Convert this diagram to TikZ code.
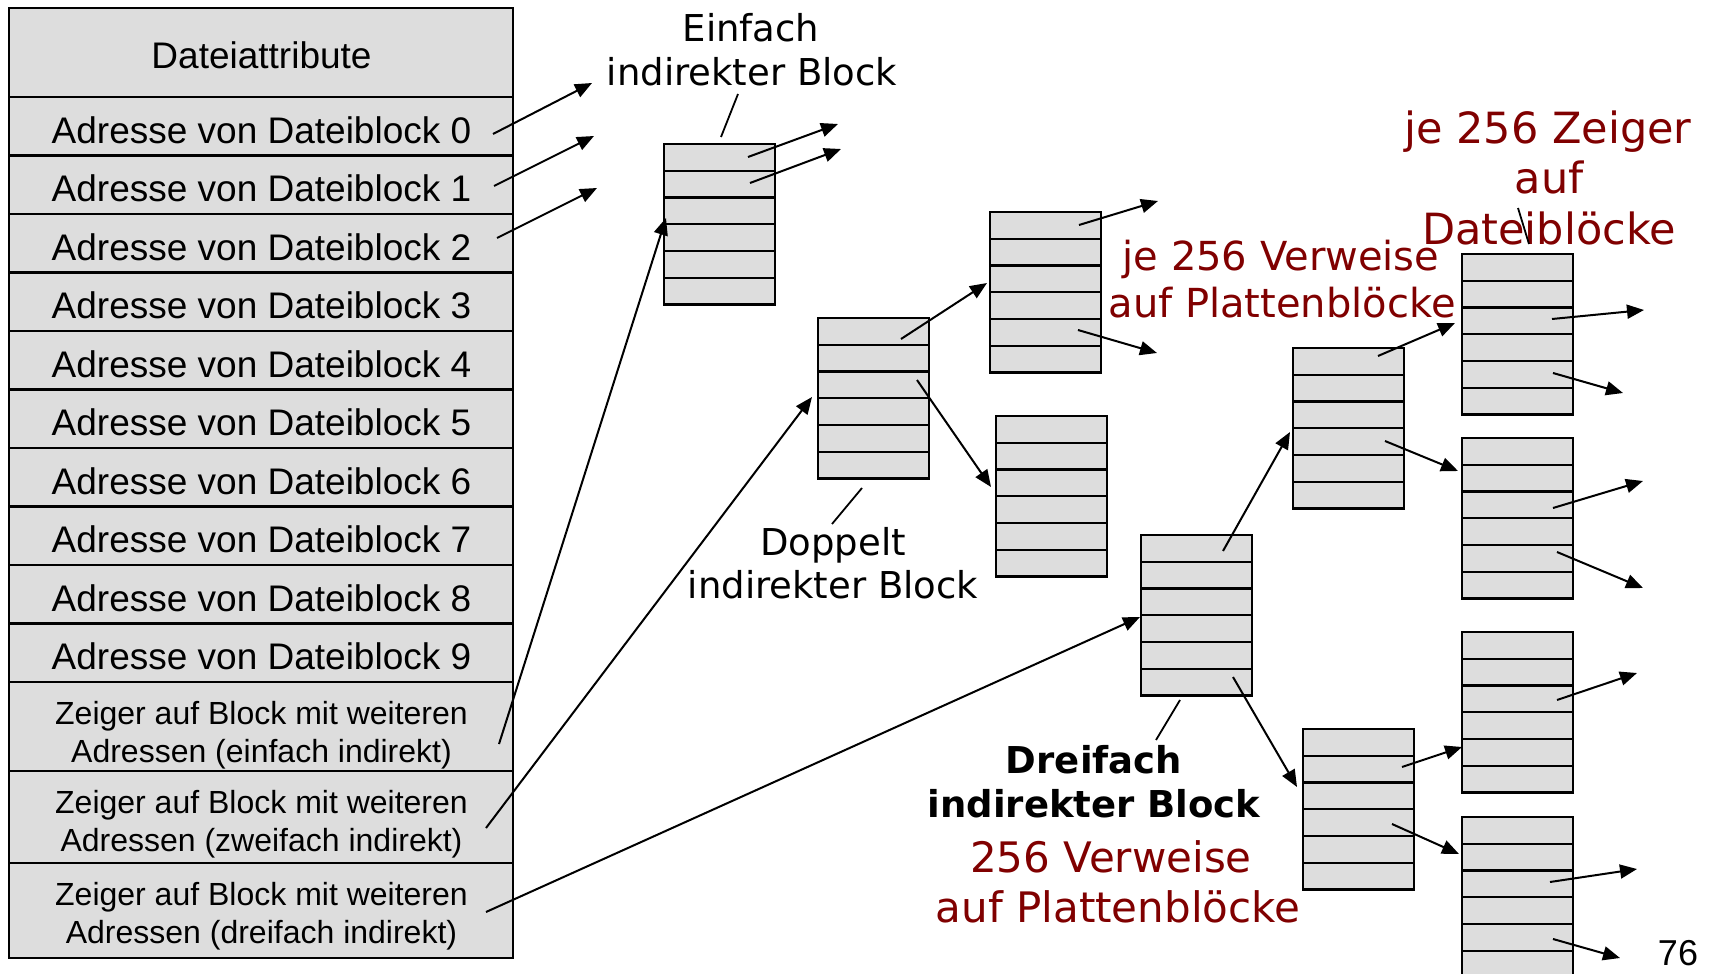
\documentclass[tikz,border=0pt]{standalone}
\usepackage{fontspec}
\setmainfont{DejaVu Sans}
\newfontfamily\arialf{Liberation Sans}
\usetikzlibrary{calc,arrows.meta}
\definecolor{dred}{RGB}{128,0,0}
\definecolor{cellgray}{RGB}{221,221,221}
\begin{document}
\begin{tikzpicture}[x=1pt,y=-1pt,
  cell/.style={draw=black, fill=cellgray, line width=2.5pt, anchor=north west, minimum width=504pt, inner sep=0pt, outer sep=0pt},
  blk/.style={draw=black, fill=cellgray, line width=2.5pt, anchor=north west, minimum width=111pt, minimum height=160.5pt, inner sep=0pt, outer sep=0pt},
  rowline/.style={line width=2.2pt},
  arr/.style={line width=2pt, -{Triangle[length=17pt,width=14pt]}},
  pline/.style={line width=1.8pt},
  tA/.style={anchor=base, inner sep=0pt, font=\arialf\fontsize{37}{44}\selectfont},
  tZ/.style={anchor=base, inner sep=0pt, font=\arialf\fontsize{32}{38}\selectfont},
  lbl/.style={anchor=base, inner sep=0pt, font=\fontsize{37}{44}\selectfont},
  lblb/.style={anchor=base, inner sep=0pt, font=\fontsize{37}{44}\selectfont\bfseries},
  redA/.style={anchor=base, inner sep=0pt, text=dred, font=\fontsize{40}{47}\selectfont},
  redB/.style={anchor=base, inner sep=0pt, text=dred, font=\fontsize{43}{50}\selectfont},
  redC/.style={anchor=base, inner sep=0pt, text=dred, font=\fontsize{42}{49}\selectfont}
]
\useasboundingbox (0,0) rectangle (1711,974);
\clip (0,0) rectangle (1711,974);

% ---- table (inode) ----
\node[cell, minimum height=89pt] (attr) at (9,8) {};
\foreach \i in {0,...,9}{
  \node[cell, minimum height=58.5pt] (c\i) at (9,{97+58.5*\i}) {};
}
\node[cell, minimum height=89pt] (z1c) at (9,682) {};
\node[cell, minimum height=92pt] (z2c) at (9,771) {};
\node[cell, minimum height=95pt] (z3c) at (9,863) {};

\node[tA] (attrT) at (261.5,68.3) {Dateiattribute};
\foreach \i in {0,...,9}{
  \node[tA] (adr\i) at (261.5,{143.3+58.5*\i}) {Adresse von Dateiblock \i};
}
\node[tZ] (z1a) at (261.5,724) {Zeiger auf Block mit weiteren};
\node[tZ] (z1b) at (261.5,762) {Adressen (einfach indirekt)};
\node[tZ] (z2a) at (261.5,813) {Zeiger auf Block mit weiteren};
\node[tZ] (z2b) at (261.5,851) {Adressen (zweifach indirekt)};
\node[tZ] (z3a) at (261.5,905) {Zeiger auf Block mit weiteren};
\node[tZ] (z3b) at (261.5,943) {Adressen (dreifach indirekt)};

% ---- blocks ----
\node[blk] (E)  at (664,144) {};
\node[blk] (D)  at (818,318) {};
\node[blk] (D1) at (990,212) {};
\node[blk] (D2) at (996,416) {};
\node[blk] (T)  at (1141,535) {};
\node[blk] (T1) at (1293,348) {};
\node[blk] (T2) at (1303,729) {};
\node[blk] (R1) at (1462,254) {};
\node[blk] (R2) at (1462,438) {};
\node[blk] (R3) at (1462,632) {};
\node[blk] (R4) at (1462,817) {};
\foreach \b in {E,D,D1,D2,T,T1,T2,R1,R2,R3,R4}{
  \foreach \k in {1,...,5}{
    \draw[rowline] ($(\b.north west)!\k/6!(\b.south west)$) -- ($(\b.north east)!\k/6!(\b.south east)$);
  }
}

% ---- labels ----
\node[lbl] (einf1) at (751,42) {Einfach};
\node[lbl] (einf2) at (752,85) {indirekter Block};
\node[lbl] (dopp1) at (833,555) {Doppelt};
\node[lbl] (dopp2) at (833,598) {indirekter Block};
\node[lblb] (drei1) at (1094,773) {Dreifach};
\node[lblb] (drei2) at (1094,817) {indirekter Block};
\node[redA] (vw1) at (1281,270) {je 256 Verweise};
\node[redA] (vw2) at (1282,317) {auf Plattenblöcke};
\node[redB] (zg1) at (1548,143) {je 256 Zeiger};
\node[redB] (zg2) at (1549,193) {auf};
\node[redB] (zg3) at (1549,244) {Dateiblöcke};
\node[redC] (tv1) at (1111,872) {256 Verweise};
\node[redC] (tv2) at (1118,922) {auf Plattenblöcke};
\node[anchor=base, inner sep=0pt, font=\arialf\fontsize{36}{43}\selectfont] (pg) at (1678,965) {76};

% ---- label pointer lines ----
\coordinate (pe1) at (738,94);   \coordinate (pe2) at (721,137);
\coordinate (pd1) at (862,488);  \coordinate (pd2) at (832,524);
\coordinate (pt1) at (1180,700); \coordinate (pt2) at (1156,740);
\coordinate (pz1) at (1518,208); \coordinate (pz2) at (1529,244);
\draw[pline] (pe1) -- (pe2);
\draw[pline] (pd1) -- (pd2);
\draw[pline] (pt1) -- (pt2);
\draw[pline] (pz1) -- (pz2);

% ---- arrows ----
\coordinate (a0s) at (493,134);  \coordinate (a0e) at (592,83);
\coordinate (a1s) at (494,186);  \coordinate (a1e) at (594,136);
\coordinate (a2s) at (497,238);  \coordinate (a2e) at (597,188);
\coordinate (e1s) at (748,157);  \coordinate (e1e) at (838,124);
\coordinate (e2s) at (750,183);  \coordinate (e2e) at (841,149);
\coordinate (z1s) at (499,744);  \coordinate (z1e) at (666,218);
\coordinate (z2s) at (486,828);  \coordinate (z2e) at (812,397);
\coordinate (z3s) at (486,912);  \coordinate (z3e) at (1140,617);
\coordinate (d1s) at (901,339);  \coordinate (d1e) at (987,283);
\coordinate (d2s) at (917,380);  \coordinate (d2e) at (991,487);
\coordinate (d11s) at (1079,225); \coordinate (d11e) at (1158,201);
\coordinate (d12s) at (1078,330); \coordinate (d12e) at (1157,353);
\coordinate (t1s) at (1223,551); \coordinate (t1e) at (1290,432);
\coordinate (t2s) at (1233,677); \coordinate (t2e) at (1297,787);
\coordinate (t11s) at (1378,356); \coordinate (t11e) at (1455,323);
\coordinate (t12s) at (1385,441); \coordinate (t12e) at (1458,471);
\coordinate (t21s) at (1402,767); \coordinate (t21e) at (1462,747);
\coordinate (t22s) at (1392,824); \coordinate (t22e) at (1459,854);
\coordinate (r11s) at (1552,319); \coordinate (r11e) at (1644,310);
\coordinate (r12s) at (1553,373); \coordinate (r12e) at (1623,393);
\coordinate (r21s) at (1553,508); \coordinate (r21e) at (1643,481);
\coordinate (r22s) at (1557,552); \coordinate (r22e) at (1643,588);
\coordinate (r31s) at (1557,700); \coordinate (r31e) at (1637,673);
\coordinate (r41s) at (1550,882); \coordinate (r41e) at (1637,869);
\coordinate (r42s) at (1553,939); \coordinate (r42e) at (1620,958);
\foreach \p in {a0,a1,a2,e1,e2,z1,z2,z3,d1,d2,d11,d12,t1,t2,t11,t12,t21,t22,r11,r12,r21,r22,r31,r41,r42}{
  \draw[arr] (\p s) -- (\p e);
}
\end{tikzpicture}
\end{document}
